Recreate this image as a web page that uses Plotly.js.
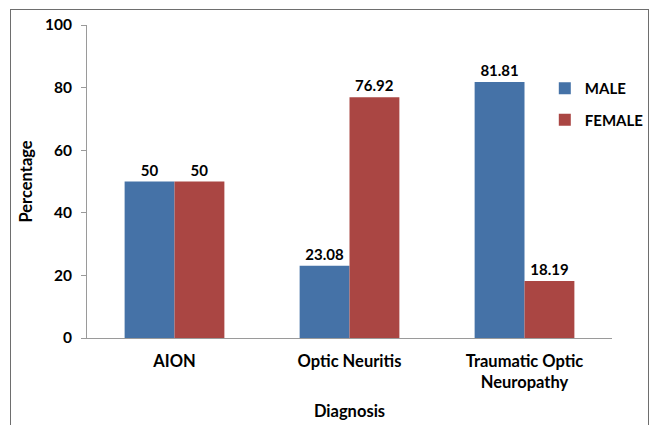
<!DOCTYPE html>
<html>
<head>
<meta charset="utf-8">
<script src="https://cdn.plot.ly/plotly-3.0.1.min.js"></script>
<style>
  html, body { margin: 0; padding: 0; background: #fff; overflow: hidden; }
  #frame { position: absolute; left: 10px; top: 9px; width: 639px; height: 440px; border: 1px solid #6e6e6e; box-sizing: border-box; }
  #chart { position: absolute; left: 0; top: 0; width: 657px; height: 425px; }
</style>
</head>
<body>
<div id="frame"></div>
<div id="chart"></div>
<script>
const categories = ["AION", "Optic Neuritis", "Traumatic Optic<br>Neuropathy"];
const maleValues = [50, 23.08, 81.81];
const femaleValues = [50, 76.92, 18.19];
const maleLabels = ["50", "23.08", "81.81"];
const femaleLabels = ["50", "76.92", "18.19"];
const yTicks = [0, 20, 40, 60, 80, 100];

const fontFam = "Lato, 'Open Sans', sans-serif";
const labelFont = { family: fontFam, size: 15, color: "#000", weight: "bold" };
const axisFont = { family: fontFam, size: 16.5, color: "#000", weight: "bold" };

const traces = [
  {
    type: "bar", name: "MALE", x: categories, y: maleValues,
    text: maleLabels, textposition: "outside", cliponaxis: false,
    textfont: labelFont, marker: { color: "#4572A7" }, legendgroup: "m",
    hoverinfo: "none"
  },
  {
    type: "bar", name: "FEMALE", x: categories, y: femaleValues,
    text: femaleLabels, textposition: "outside", cliponaxis: false,
    textfont: labelFont, marker: { color: "#AA4643" }, legendgroup: "f",
    hoverinfo: "none"
  }
];

const layout = {
  width: 657, height: 425,
  margin: { l: 87, r: 45, t: 25, b: 87, autoexpand: false },
  paper_bgcolor: "rgba(0,0,0,0)",
  plot_bgcolor: "rgba(0,0,0,0)",
  barmode: "group",
  bargap: 0.43,
  bargroupgap: 0,
  font: { family: fontFam, color: "#000" },
  showlegend: true,
  legend: {
    x: 0.872, y: 0.85, xanchor: "left", yanchor: "top",
    bgcolor: "rgba(0,0,0,0)",
    font: { family: fontFam, size: 15, color: "#000", weight: "bold" },
    tracegroupgap: 9, traceorder: "grouped",
    itemwidth: 30
  },
  xaxis: {
    type: "category",
    showline: true, linecolor: "#9a9a9a", linewidth: 1,
    ticks: "", showgrid: false, zeroline: false,
    ticklabelstandoff: 8,
    tickfont: axisFont,
    title: { text: "Diagnosis", font: axisFont, standoff: 14 }
  },
  yaxis: {
    range: [0, 100], tickvals: yTicks, ticktext: yTicks.map(String),
    showline: true, linecolor: "#9a9a9a", linewidth: 1,
    ticks: "outside", ticklen: 5, tickcolor: "#9a9a9a",
    showgrid: false, zeroline: false,
    ticklabelstandoff: 6,
    tickfont: { family: fontFam, size: 15.5, color: "#000", weight: "bold" },
    title: { text: "Percentage", font: axisFont, standoff: 8 }
  }
};

Plotly.newPlot("chart", traces, layout, { displayModeBar: false, staticPlot: true });
</script>
</body>
</html>
